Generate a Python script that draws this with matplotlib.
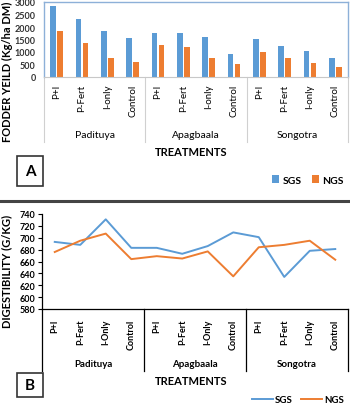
import matplotlib
matplotlib.use("Agg")
import matplotlib.pyplot as plt
from matplotlib.transforms import blended_transform_factory
from matplotlib.patches import Rectangle
from matplotlib.lines import Line2D

plt.rcParams['font.family'] = ['Lato', 'DejaVu Sans']

# data
sites = ['Padituya', 'Apagbaala', 'Songotra']
treat_a = ['P+I', 'P-Fert', 'I-only', 'Control']
treat_b = ['P+I', 'P-Fert', 'I-Only', 'Control']

yield_sgs = [2830, 2330, 1840, 1550, 1760, 1770, 1600, 940, 1510, 1240, 1050, 750]
yield_ngs = [1840, 1350, 760, 610, 1300, 1190, 780, 530, 1020, 750, 570, 420]

dig_sgs = [693, 688, 731, 683, 683, 673, 686, 709, 701, 634, 678, 681]
dig_ngs = [676, 695, 707, 664, 669, 665, 677, 635, 684, 688, 695, 663]

BLUE = '#5B9BD5'
ORANGE = '#ED7D31'
W, H = 350, 410

fig = plt.figure(figsize=(W / 100, H / 100), dpi=100)


def fx(px):
    return px / W


def fy(py):
    return 1 - py / H


n = len(yield_sgs)
x = list(range(n))

# ---------- panel A: bars ----------
axA = fig.add_axes([fx(44), fy(78), fx(348) - fx(44), fy(3) - fy(78)])
bw = 0.22
axA.bar([i - 0.14 for i in x], yield_sgs, width=bw, color=BLUE, label='SGS')
axA.bar([i + 0.14 for i in x], yield_ngs, width=bw, color=ORANGE, label='NGS')
axA.set_xlim(-0.5, n - 0.5)
axA.set_ylim(0, 3000)
axA.set_yticks(range(0, 3001, 500))
axA.tick_params(axis='y', length=0, labelsize=6.5, pad=6)
for lbl in axA.get_yticklabels():
    lbl.set_fontweight('bold')
    lbl.set_color('#333333')
axA.set_xticks(x)
axA.set_xticklabels(treat_a * 3, rotation=90, fontsize=7, va='top')
axA.tick_params(axis='x', length=0, pad=5)
for s in ['top', 'left', 'right']:
    axA.spines[s].set_color('#8DB0D8')
    axA.spines[s].set_linewidth(1.0)
axA.spines['bottom'].set_color('#C8C8C8')

trA = blended_transform_factory(axA.transData, fig.transFigure)
for b in [-0.5, 3.5, 7.5, 11.5]:
    axA.add_line(Line2D([b, b], [fy(78), fy(143)], transform=trA, color='#D0D0D0',
                        lw=0.8, clip_on=False))
for k, s in enumerate(sites):
    fig.text(trA.transform((4 * k + 1.5, 0))[0] / fig.dpi / fig.get_figwidth(), fy(136), s,
             ha='center', va='center', fontsize=7.5)
fig.text(fx(191), fy(153), 'TREATMENTS', ha='center', va='center', fontsize=8, fontweight='bold')
fig.text(fx(7), fy(72), 'FODDER YEILD (Kg/ha DM)', rotation=90, ha='center', va='center',
         fontsize=8, fontweight='bold')
axA.legend(loc='center', bbox_to_anchor=(fx(308), fy(181)), bbox_transform=fig.transFigure,
           ncol=2, frameon=False, fontsize=7.5, prop={'weight': 'bold', 'size': 7.5},
           handlelength=0.7, handleheight=0.7, handletextpad=0.3, columnspacing=1.0)

fig.add_artist(Rectangle((fx(17), fy(187)), fx(26), fy(157) - fy(187), transform=fig.transFigure,
                         fill=False, edgecolor='#333333', lw=1.2))
fig.text(fx(30), fy(172), 'A', ha='center', va='center', fontsize=11, fontweight='bold')

# separator bar between panels
fig.add_artist(Line2D([0, 1], [fy(202), fy(202)], transform=fig.transFigure, color='#444444', lw=2.2))

# ---------- panel B: lines ----------
axB = fig.add_axes([fx(42), fy(310), fx(348) - fx(42), fy(215) - fy(310)])
axB.plot(x, dig_sgs, color=BLUE, lw=1.4, label='SGS')
axB.plot(x, dig_ngs, color=ORANGE, lw=1.4, label='NGS')
axB.set_xlim(-0.5, n - 0.5)
axB.set_ylim(580, 740)
axB.set_yticks(range(580, 741, 20))
axB.tick_params(axis='y', length=3, width=0.8, labelsize=6.5, pad=2)
for lbl in axB.get_yticklabels():
    lbl.set_fontweight('bold')
axB.set_xticks(x)
axB.set_xticklabels(treat_b * 3, rotation=90, fontsize=6.5, fontweight='bold', va='top')
axB.tick_params(axis='x', length=0, pad=7)
axB.spines['top'].set_visible(False)
axB.spines['right'].set_visible(False)
axB.spines['left'].set_linewidth(0.9)
axB.spines['bottom'].set_linewidth(0.9)

trB = blended_transform_factory(axB.transData, fig.transFigure)
for b in [-0.5, 3.5, 7.5, 11.5]:
    axB.add_line(Line2D([b, b], [fy(310), fy(372)], transform=trB, color='black',
                        lw=0.9, clip_on=False))
for k, s in enumerate(sites):
    fig.text(trB.transform((4 * k + 1.5, 0))[0] / fig.dpi / fig.get_figwidth(), fy(365), s,
             ha='center', va='center', fontsize=7, fontweight='bold')
fig.text(fx(191), fy(382), 'TREATMENTS', ha='center', va='center', fontsize=8, fontweight='bold')
fig.text(fx(7), fy(271), 'DIGESTIBILITY (G/KG)', rotation=90, ha='center', va='center',
         fontsize=8, fontweight='bold')
axB.legend(loc='center', bbox_to_anchor=(fx(298), fy(401)), bbox_transform=fig.transFigure,
           ncol=2, frameon=False, prop={'weight': 'bold', 'size': 7},
           handlelength=2.2, handletextpad=0.2, columnspacing=0.8)

fig.add_artist(Rectangle((fx(17), fy(398)), fx(26), fy(374) - fy(398), transform=fig.transFigure,
                         fill=False, edgecolor='#333333', lw=1.2))
fig.text(fx(30), fy(386), 'B', ha='center', va='center', fontsize=11, fontweight='bold')

fig.savefig('out.png', dpi=100)
